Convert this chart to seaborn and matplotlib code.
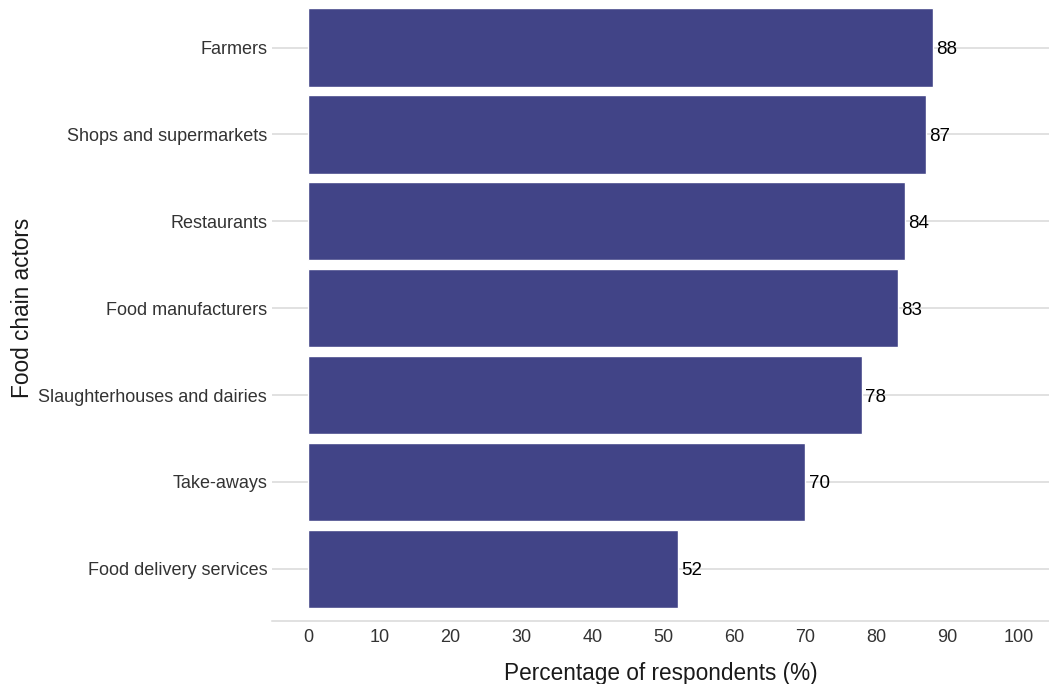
import matplotlib
matplotlib.use("Agg")
import matplotlib.pyplot as plt
import seaborn as sns
import pandas as pd

categories = ["Farmers", "Shops and supermarkets", "Restaurants", "Food manufacturers",
              "Slaughterhouses and dairies", "Take-aways", "Food delivery services"]
values = [88, 87, 84, 83, 78, 70, 52]
xticks = [0, 10, 20, 30, 40, 50, 60, 70, 80, 90, 100]

sns.set_theme(style="white")
plt.rcParams['font.family'] = ['Liberation Sans', 'DejaVu Sans']

df = pd.DataFrame({"actor": categories, "pct": values})

W, H = 1049, 684
fig = plt.figure(figsize=(W / 100, H / 100), dpi=100)
left_px, right_px, bottom_px, top_px = 272, 1049, 621, -4.6
ax = fig.add_axes([left_px / W, (H - bottom_px) / H, (right_px - left_px) / W, (bottom_px - top_px) / H])

sns.barplot(data=df, x="pct", y="actor", order=categories, color="#414487",
            saturation=1, width=0.9, ax=ax, zorder=3)

for i, v in enumerate(values):
    ax.text(v + 0.45, i, str(v), ha="left", va="center_baseline", fontsize=13.5, color="black", zorder=4)

ax.set_xlim(-5.1, 104.3)
ax.set_ylim(6.6, -0.6)
ax.set_xticks(xticks)
ax.set_xticklabels([str(t) for t in xticks])

for i in range(len(categories)):
    ax.axhline(i, color="#d9d9d9", lw=1.1, zorder=1)

for s in ["top", "right", "left"]:
    ax.spines[s].set_visible(False)
ax.spines["bottom"].set_color("#d9d9d9")
ax.spines["bottom"].set_linewidth(1.1)

ax.tick_params(axis="x", length=0, pad=6, labelsize=13, labelcolor="#333333")
ax.tick_params(axis="y", length=0, pad=3.5, labelsize=13, labelcolor="#333333")
ax.grid(False)

ax.set_xlabel("Percentage of respondents (%)", fontsize=16.3, color="#1a1a1a", labelpad=11)
ax.set_ylabel("Food chain actors", fontsize=16.3, color="#1a1a1a", labelpad=3)

fig.savefig("out.png", dpi=100)
